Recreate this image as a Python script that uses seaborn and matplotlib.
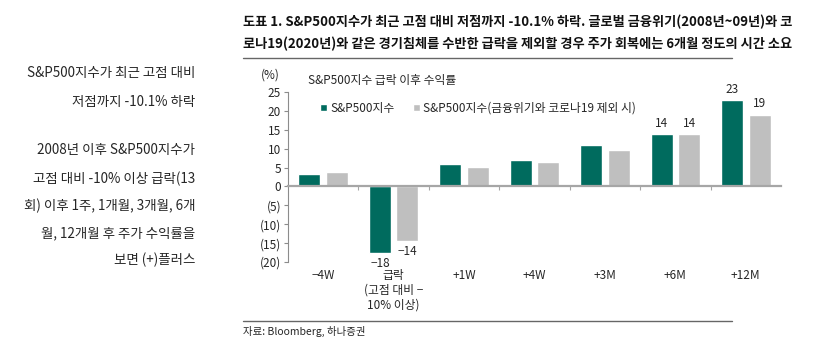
import numpy as np
import pandas as pd
import matplotlib
matplotlib.use('Agg')
import matplotlib.pyplot as plt
import seaborn as sns
from matplotlib.lines import Line2D
from matplotlib.ticker import FuncFormatter

# 데이터
periods = ['−4W', '급락\n(고점 대비 −\n10% 이상)', '+1W', '+4W', '+3M', '+6M', '+12M']
sp500_all = [3.3, -17.7, 5.9, 7.1, 11.0, 13.8, 22.8]
sp500_ex = [3.7, -14.4, 5.2, 6.4, 9.7, 13.8, 19.0]
series_names = ['S&P500지수', 'S&P500지수(금융위기와 코로나19 제외 시)']
labeled = ['급락\n(고점 대비 −\n10% 이상)', '+6M', '+12M']
y_ticks = [-20, -15, -10, -5, 0, 5, 10, 15, 20, 25]

title_lines = ['도표 1. S&P500지수가 최근 고점 대비 저점까지 -10.1% 하락. 글로벌 금융위기(2008년~09년)와 코',
               '로나19(2020년)와 같은 경기침체를 수반한 급락을 제외할 경우 주가 회복에는 6개월 정도의 시간 소요']
side_lines = ['S&P500지수가 최근 고점 대비', '저점까지 -10.1% 하락', '',
              '2008년 이후 S&P500지수가', '고점 대비 -10% 이상 급락(13',
              '회) 이후 1주, 1개월, 3개월, 6개', '월, 12개월 후 주가 수익률을', '보면 (+)플러스']
source = '자료: Bloomberg, 하나증권'

GREEN = '#006B5E'
GRAY = '#BFBFBF'
TXT = '#262626'

sns.set_theme(style='white')
plt.rcParams['font.family'] = ['Noto Sans CJK KR', 'DejaVu Sans']
plt.rcParams['axes.unicode_minus'] = True

df = pd.DataFrame({
    'period': periods * 2,
    'value': sp500_all + sp500_ex,
    'series': [series_names[0]] * len(periods) + [series_names[1]] * len(periods),
})

W, H = 832, 354
fig = plt.figure(figsize=(W / 100, H / 100), dpi=100)


def px(x, y):
    return x / W, 1 - y / H


ax = fig.add_axes([288 / W, 1 - 262 / H, (781 - 288) / W, (262 - 92) / H])
sns.barplot(data=df, x='period', y='value', hue='series', order=periods, hue_order=series_names,
            palette=[GREEN, GRAY], saturation=1, width=0.78, gap=0.2, ax=ax)

ax.set_ylim(-20, 25)
ax.set_yticks(y_ticks)
ax.yaxis.set_major_formatter(FuncFormatter(lambda v, p: f'({abs(int(v))})' if v < 0 else f'{int(v)}'))
ax.set_xlabel('')
ax.set_ylabel('')
for s in ['top', 'right']:
    ax.spines[s].set_visible(False)
ax.spines['left'].set_color('#8C8C8C')
ax.spines['left'].set_linewidth(0.8)
ax.spines['bottom'].set_position(('data', 0))
ax.spines['bottom'].set_color('#A6A6A6')
ax.spines['bottom'].set_linewidth(1.6)
ax.set_xticks(np.arange(len(periods) - 1) + 0.5, labels=[''] * (len(periods) - 1))
ax.tick_params(axis='x', length=3, width=0.8, color='#A6A6A6', direction='out', bottom=True)
ax.tick_params(axis='y', length=3, width=0.8, color='#8C8C8C', direction='out', left=True,
               labelsize=8.5, labelcolor=TXT, pad=2)

# 카테고리 라벨은 축 하단에
sec = ax.secondary_xaxis('bottom')
sec.set_xticks(range(len(periods)), labels=periods)
sec.tick_params(length=0, labelsize=8.5, labelcolor=TXT, pad=5)
sec.spines['bottom'].set_visible(False)

for c, vals in zip(ax.containers, [sp500_all, sp500_ex]):
    labs = [f'{v:.0f}'.replace('-', '−') if p in labeled else '' for p, v in zip(periods, vals)]
    ax.bar_label(c, labels=labs, padding=3, fontsize=8.5, color=TXT)

sns.move_legend(ax, 'center left', bbox_to_anchor=(0.065, 0.905), ncol=2, frameon=False, title=None,
                fontsize=8.5, handlelength=0.6, handleheight=0.6, handletextpad=0.3,
                columnspacing=1.5, borderaxespad=0, borderpad=0)
for t in ax.get_legend().get_texts():
    t.set_color(TXT)

ax.text(-0.055, 1.10, '(%)', transform=ax.transAxes, fontsize=8.5, color=TXT, ha='left', va='center')
ax.text(0.04, 1.07, 'S&P500지수 급락 이후 수익률', transform=ax.transAxes, fontsize=8.5, color=TXT,
        ha='left', va='center')

# 제목
for i, line in enumerate(title_lines):
    fig.text(*px(243, 22 + 22 * i), line, fontsize=9.5, fontweight='bold', color='#111111',
             ha='left', va='center')
fig.add_artist(Line2D([243 / W, 732 / W], [1 - 58 / H] * 2, color='#666666', lw=1))

# 왼쪽 설명
side_y = [73, 102, 126, 150, 179, 206, 233, 260]
for y, line in zip(side_y, side_lines):
    fig.text(*px(195, y), line, fontsize=9.7, color=TXT, ha='right', va='center')

fig.add_artist(Line2D([243 / W, 732 / W], [1 - 321 / H] * 2, color='#666666', lw=1))
fig.text(*px(243, 331), source, fontsize=7.5, color=TXT, ha='left', va='center')

fig.savefig('out.png', dpi=100)
